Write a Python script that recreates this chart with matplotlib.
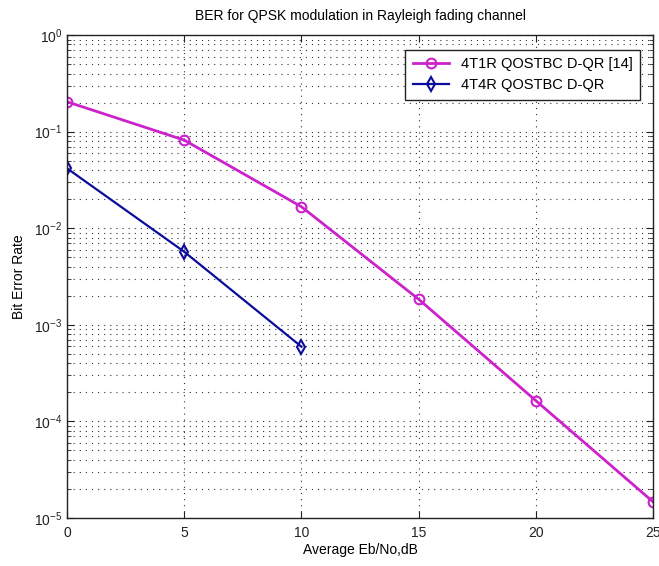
import numpy as np
import matplotlib.pyplot as plt
from matplotlib.ticker import LogLocator, NullFormatter

plt.rcParams['font.family'] = ['Liberation Sans', 'DejaVu Sans']
plt.rcParams['mathtext.fontset'] = 'custom'
plt.rcParams['mathtext.rm'] = 'Liberation Sans'
plt.rcParams['mathtext.it'] = 'Liberation Sans'

# BER curves
snr_4t1r = [0, 5, 10, 15, 20, 25]
ber_4t1r = [0.204, 0.0818, 0.0167, 0.00184, 1.64e-4, 1.47e-5]
snr_4t4r = [0, 5, 10]
ber_4t4r = [0.0417, 0.00571, 5.94e-4]
labels = ['4T1R QOSTBC D-QR [14]', '4T4R QOSTBC D-QR']

fig = plt.figure(figsize=(6.59, 5.66), dpi=100)
ax = fig.add_axes([0.1017, 0.0848, 0.8893, 0.8532])

ax.semilogy(snr_4t1r, ber_4t1r, color='#cc22cc', lw=2.0, marker='o',
            ms=7, mfc='none', mew=1.5, label=labels[0])
ax.semilogy(snr_4t4r, ber_4t4r, color='#0c0c9c', lw=1.6, marker='d',
            ms=7, mfc='none', mew=1.5, label=labels[1])

ax.set_xlim(0, 25)
ax.set_ylim(1e-5, 1)
ax.set_xticks([0, 5, 10, 15, 20, 25])
ax.yaxis.set_major_locator(LogLocator(base=10, numticks=10))
ax.yaxis.set_minor_locator(LogLocator(base=10, subs=np.arange(2, 10), numticks=20))
ax.yaxis.set_minor_formatter(NullFormatter())

dots = (0, (1, 4.5))
ax.grid(True, which='major', axis='both', color='#333333', ls=dots, lw=0.8)
ax.grid(True, which='minor', axis='y', color='#333333', ls=dots, lw=0.8)

ax.tick_params(which='both', direction='in', top=True, right=True,
               labelsize=10, colors='#222222')
ax.tick_params(which='major', length=5)
ax.tick_params(which='minor', length=3)
ax.tick_params(axis='x', pad=6)
for s in ax.spines.values():
    s.set_linewidth(1.0)
    s.set_color('#222222')

ax.set_title('BER for QPSK modulation in Rayleigh fading channel', fontsize=10, pad=11)
ax.set_xlabel('Average Eb/No,dB', fontsize=10, labelpad=2)
ax.set_ylabel('Bit Error Rate', fontsize=10, labelpad=6)

leg = ax.legend(loc='upper right', fontsize=10.5, fancybox=False, framealpha=1,
                edgecolor='#222222', borderpad=0.5, handlelength=2.5,
                bbox_to_anchor=(0.99, 0.985))
leg.get_frame().set_linewidth(1.0)

fig.savefig('out.png', dpi=100)
